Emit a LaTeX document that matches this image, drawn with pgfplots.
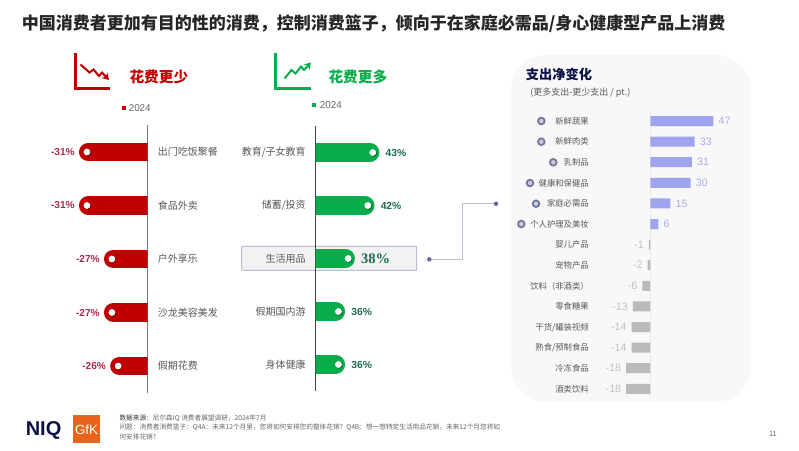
\documentclass[border=0pt]{standalone}
\usepackage{fontspec}
\setmainfont{Noto Sans CJK SC}
\newfontfamily\lib{Liberation Sans}
\newfontfamily\libs{Liberation Serif}
\usepackage{pgfplots}
\pgfplotsset{compat=1.18}
\usetikzlibrary{arrows.meta}
\definecolor{cRed}{HTML}{C00000}
\definecolor{cRedD}{HTML}{6E0000}
\definecolor{cRedT}{HTML}{B3274C}
\definecolor{cGreen}{HTML}{08AC4B}
\definecolor{cGreenD}{HTML}{00602E}
\definecolor{cGreenT}{HTML}{1F6B4F}
\definecolor{cTxt}{HTML}{595959}
\definecolor{cPanel}{HTML}{F8F8F9}
\definecolor{cPos}{HTML}{9FA4EE}
\definecolor{cPosT}{HTML}{A9ADEC}
\definecolor{cNeg}{HTML}{BBBBBB}
\definecolor{cNegT}{HTML}{C2C2C2}
\definecolor{cRing}{HTML}{7577A8}
\definecolor{cLink}{HTML}{BDBCDA}
\definecolor{cDot}{HTML}{6A6BA6}
\definecolor{cNavy}{HTML}{0B1145}
\definecolor{cGfk}{HTML}{E8631C}
% one rounded bar: colour, dark colour, dot shift, value, base, row
\newcommand{\pillbar}[6]{%
  \addplot[forget plot,#1,line width=14.1pt,line cap=round,shorten <=7.05pt,no markers] coordinates {(#4,#6) (#5,#6)};
  \addplot[forget plot,only marks,mark=*,mark indices={1},mark size=2.3pt,
    mark options={draw=#2,fill=#2,xshift=#3+0.6pt,yshift=-0.6pt}] coordinates {(#4,#6) (#5,#6)};
  \addplot[forget plot,only marks,mark=*,mark indices={1},mark size=2.3pt,
    mark options={draw=white,fill=white,xshift=#3}] coordinates {(#4,#6) (#5,#6)};
}
\begin{document}
\begin{tikzpicture}[x=0.75pt,y=-0.75pt]
\path[use as bounding box,fill=white] (0,0) rectangle (799,450);
% title
\node[anchor=west,inner sep=0,font=\fontsize{12.75pt}{14pt}\selectfont\bfseries,text=black!85] at (21.5,23.5)
  {中国消费者更加有目的性的消费，控制消费篮子，倾向于在家庭必需品/身心健康型产品上消费};
% red header
\draw[cRed,line width=1.9pt] (75.3,53.3) -- (75.3,88.7) -- (109.7,88.7);
\draw[cRed,line width=1.5pt,-{Stealth[length=5pt,width=6pt]}] (80.5,64.5) -- (89.5,72.5) -- (93.5,69.5) -- (99,76) -- (102,72.5) -- (109,80);
\node[anchor=west,inner sep=0,font=\fontsize{11pt}{12pt}\selectfont\bfseries,text=cRed] at (129.3,77.3) {花费更少};
\fill[cRed] (121.5,105.7) rectangle (125.5,109.7);
\node[anchor=west,inner sep=0,font=\fontsize{7.4pt}{8pt}\selectfont\lib,text=black!60] at (128.5,107.7) {2024};
% green header
\draw[cGreen,line width=1.9pt] (275.7,53.3) -- (275.7,88.7) -- (311,88.7);
\draw[cGreen,line width=1.5pt,-{Stealth[length=5pt,width=6pt]}] (284.5,78.5) -- (291.5,70) -- (295.5,73.5) -- (301,66.5) -- (304,70) -- (311,62.5);
\node[anchor=west,inner sep=0,font=\fontsize{11pt}{12pt}\selectfont\bfseries,text=cGreen] at (328.3,77.3) {花费更多};
\fill[cGreen] (312.3,102.7) rectangle (316.3,106.7);
\node[anchor=west,inner sep=0,font=\fontsize{7.4pt}{8pt}\selectfont\lib,text=black!60] at (319.7,104.7) {2024};
% highlight box
\draw[draw=cLink,fill=black!5,line width=0.7pt,rounded corners=0.5pt] (241.7,246.3) rectangle (416.7,270.3);
% connector
\draw[cLink,line width=0.8pt] (429.3,259.3) -- (462.7,259.3) -- (462.7,203.7) -- (496,203.7);
\fill[cDot] (429.3,259.3) circle (1.7pt);
\fill[cDot] (496,203.7) circle (1.7pt);
% panel
\fill[cPanel,rounded corners=27pt] (511,55) rectangle (751,402);
% left chart
\begin{axis}[at={(40.46pt,-93.94pt)},anchor=north west,scale only axis,width=70.31pt,height=200.63pt,
  xmin=-35,xmax=-20,ymin=0.5,ymax=5.5,y dir=reverse,clip mode=individual,
  axis x line=none,axis y line*=right,axis line style={draw=black!52,line width=1pt},
  ytick={1,2,3,4,5},yticklabels={出门吃饭聚餐,食品外卖,户外享乐,沙龙美容美发,假期花费},
  major tick length=0pt,
  yticklabel style={anchor=west,inner sep=0pt,xshift=7.5pt,text=cTxt,font=\fontsize{7.5pt}{8pt}\selectfont}]
\pillbar{cRed}{cRedD}{6pt}{-31}{-20}{1}
\pillbar{cRed}{cRedD}{6pt}{-31}{-20}{2}
\pillbar{cRed}{cRedD}{6pt}{-27}{-20}{3}
\pillbar{cRed}{cRedD}{6pt}{-27}{-20}{4}
\pillbar{cRed}{cRedD}{6pt}{-26}{-20}{5}
\begin{scope}[every node/.style={anchor=east,inner sep=0pt,xshift=-3pt,text=cRedT,font=\fontsize{7.6pt}{8pt}\selectfont\lib\bfseries}]
\node at (axis cs:-31,1) {-31\%};
\node at (axis cs:-31,2) {-31\%};
\node at (axis cs:-27,3) {-27\%};
\node at (axis cs:-27,4) {-27\%};
\node at (axis cs:-26,5) {-26\%};
\end{scope}
\end{axis}
% right chart
\begin{axis}[at={(236.78pt,-94.5pt)},anchor=north west,scale only axis,width=73.5pt,height=198.75pt,
  xmin=30,xmax=50,ymin=0.5,ymax=5.5,y dir=reverse,clip mode=individual,
  axis x line=none,axis y line*=left,axis line style={draw=black!75,line width=1pt},
  ytick={1,2,3,4,5},yticklabels={教育/子女教育,储蓄/投资,生活用品,假期国内游,身体健康},
  major tick length=0pt,
  yticklabel style={anchor=east,inner sep=0pt,xshift=-7.3pt,text=cTxt,font=\fontsize{7.5pt}{8pt}\selectfont}]
\pillbar{cGreen}{cGreenD}{-5pt}{43}{30}{1}
\pillbar{cGreen}{cGreenD}{-5pt}{42}{30}{2}
\pillbar{cGreen}{cGreenD}{-5pt}{38}{30}{3}
\pillbar{cGreen}{cGreenD}{-5pt}{36}{30}{4}
\pillbar{cGreen}{cGreenD}{-5pt}{36}{30}{5}
\begin{scope}[every node/.style={anchor=west,inner sep=0pt,xshift=4.5pt,text=cGreenT,font=\fontsize{7.7pt}{8pt}\selectfont\lib\bfseries}]
\node at (axis cs:43,1) {43\%};
\node at (axis cs:42,2) {42\%};
\node[font=\fontsize{10.9pt}{11pt}\selectfont\libs\bfseries] at (axis cs:38,3) {38\%};
\node at (axis cs:36,4) {36\%};
\node at (axis cs:36,5) {36\%};
\end{scope}
\end{axis}
% panel texts
\node[anchor=west,inner sep=0,font=\fontsize{9.9pt}{11pt}\selectfont\bfseries,text=cNavy] at (525.7,74.3) {支出净变化};
\node[anchor=west,inner sep=0,font=\fontsize{6.75pt}{8pt}\selectfont,text=black!65] at (530,92.3) {(更多支出-更少支出 / pt.)};
% panel chart
\begin{axis}[at={(457.58pt,-83.03pt)},anchor=north west,scale only axis,width=90.45pt,height=216.3pt,
  xmin=-30,xmax=60,ymin=0.5,ymax=14.5,y dir=reverse,clip=false,
  axis x line=none,axis y line=none,
  ytick={1,...,14},
  xbar,bar width=7.5pt,bar shift=0pt,
  point meta=explicit symbolic,nodes near coords,
  ]
\draw[blue!20!black!8,line width=0.5pt] (axis cs:0,0.5) -- (axis cs:0,14.5);
\addplot[draw=none,fill=cPos,every node near coord/.append style={anchor=west,inner sep=0pt,xshift=3.8pt,text=cPosT,font=\fontsize{8pt}{9pt}\selectfont\lib}]
 coordinates {(47,1)[47] (33,2)[33] (31,3)[31] (30,4)[30] (15,5)[15] (6,6)[6]};
\addplot[draw=none,fill=cNeg,every node near coord/.append style={anchor=east,inner sep=0pt,xshift=-3.6pt,text=cNegT,font=\fontsize{8pt}{9pt}\selectfont\lib}]
 coordinates {(-1,7)[-1] (-2,8)[-2] (-6,9)[-6] (-13,10)[-13] (-14,11)[-14] (-14,12)[-14] (-18,13)[-18] (-18,14)[-18]};
\end{axis}
% panel row labels
\foreach \yy/\t in {121/{新鲜蔬果},141.7/{新鲜肉类},162.3/{乳制品},183/{健康和保健品},203.7/{家庭必需品},224/{个人护理及美妆},244.7/{婴儿产品},265.3/{宠物产品},286/{饮料（非酒类）},306.7/{零食糖果},327.3/{干货/罐装视频},348/{熟食/预制食品},368.3/{冷冻食品},389/{酒类饮料}}
  \node[anchor=east,inner sep=0,font=\fontsize{6.25pt}{7pt}\selectfont,text=black!65] at (589,\yy) {\t};
\foreach \xx/\yy in {541.3/121,541.3/141.7,553.3/162.3,530/183,536/203.7,521.3/224}
  \draw[cRing,fill=white!80!black,line width=1.35pt] (\xx,\yy) circle (2.5pt);
% footer
\node[anchor=west,inner sep=0,font=\fontsize{15pt}{16pt}\selectfont\lib\bfseries,text=cNavy] at (25.5,430.5) {NIQ};
\fill[cGfk] (73.3,415) rectangle (100,442.7);
\node[inner sep=0,font=\fontsize{10pt}{11pt}\selectfont\lib,text=white] at (86.6,429.5) {GfK};
\begin{scope}[every node/.style={anchor=west,inner sep=0,font=\fontsize{5pt}{6pt}\selectfont,text=black!60}]
\node at (119.3,418.5) {\textcolor{black!80}{数据来源}：尼尔森IQ 消费者展望调研，2024年7月};
\node at (119.3,427.5) {问题：消费者消费篮子：Q4A：未来12个月里，您将如何安排您的整体花销？Q4B：想一想特定生活用品花销，未来12个月您将如};
\node at (119.3,436.5) {何安排花销?};
\end{scope}
\node[inner sep=0,font=\fontsize{5.5pt}{6pt}\selectfont\lib,text=black!60] at (773,434) {11};
\end{tikzpicture}
\end{document}
